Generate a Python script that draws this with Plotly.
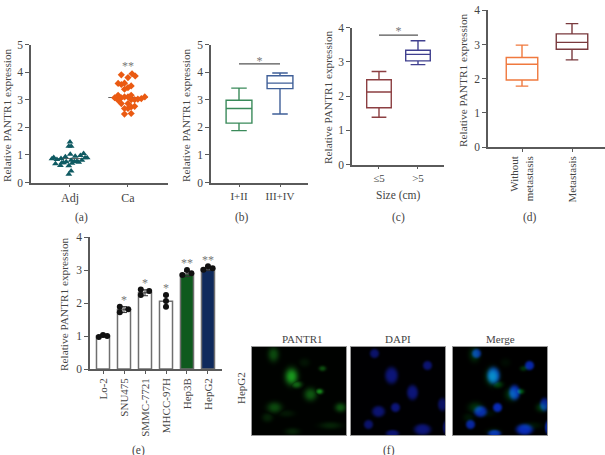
import numpy as np
import plotly.graph_objects as go

W, H = 605, 455
FONT = "Liberation Serif"
TXT = "#444444"
AX = "#5a5a5a"

# (a) scatter
adj_x = [0,-0.02,0.02,-0.28,-0.155,0.005,-0.08,0.09,0.18,0.235,-0.31,-0.225,0.295,
         -0.25,-0.14,-0.065,0.02,0.12,0.205,-0.165,-0.02,0.035,0.075,-0.11,0.02,-0.02,0.15,0.26]
adj_y = [1.47,1.31,1.31,0.91,0.87,1.02,0.93,0.95,0.98,1.05,0.86,0.83,0.90,
         0.68,0.72,0.75,0.81,0.77,0.81,0.62,0.61,0.70,0.76,0.72,0.42,0.30,0.73,0.90]
ca_x = [-0.115,0.07,0.125,0,-0.17,-0.115,-0.06,0.055,0,-0.06,-0.17,-0.23,-0.115,-0.06,0,0.055,
        0.23,0.29,-0.17,-0.115,0,0.055,0.115,0.17,-0.06,0,0.055,0.115,-0.06,0.055]
ca_y = [3.90,3.94,3.86,3.80,3.59,3.55,3.60,3.50,3.44,3.38,3.16,3.07,3.07,3.10,3.10,3.16,
        3.04,3.10,2.98,2.86,2.86,3.00,3.00,3.02,2.68,2.68,2.74,2.76,2.48,2.50]
a_medians = [0.87, 3.08]

# (b) - (d) box summaries: low, q1, median, q3, high
b_labels = ["I+II", "III+IV"]
b_low, b_q1, b_med, b_q3, b_high = [1.88,2.48],[2.15,3.40],[2.68,3.60],[2.98,3.87],[3.42,3.97]
c_labels = ["≤5", ">5"]
c_low, c_q1, c_med, c_q3, c_high = [1.38,2.92],[1.66,3.03],[2.12,3.22],[2.48,3.34],[2.72,3.62]
d_labels = ["Without<br>metastasis", "Metastasis"]
d_low, d_q1, d_med, d_q3, d_high = [1.78,2.55],[1.96,2.86],[2.42,3.06],[2.62,3.31],[2.98,3.61]

# (e) bars
e_labels = ["Lo-2","SNU475","SMMC-7721","MHCC-97H","Hep3B","HepG2"]
e_vals = [1.0,1.80,2.31,2.05,2.88,3.03]
e_err = [0.03,0.09,0.09,0.17,0.08,0.05]
e_colors = ["white","white","white","white","#0f5a1e","#0f2a5c"]
e_pts_x = [-0.2,0,0.2,-0.2,-0.2,0.2,-0.2,-0.2,0.2,0,0,0,-0.22,0,0.21,-0.22,0,0.22]
e_pts_b = [0,0,0,1,1,1,2,2,2,3,3,3,4,4,4,5,5,5]
e_pts_y = [0.97,1.03,1.0,1.89,1.72,1.81,2.41,2.24,2.36,2.24,2.06,1.89,2.85,3.0,2.90,3.01,3.11,3.05]

# (f) micrograph blobs: cx, cy, rx, ry, level (panel pixels)
green_blobs = [(21,7,6,8,.40),(39,29,7,9,.85),(44,37,6,4,.55),(52,15,6,5,.10),(70,21,4,3,.42),(58,47,7,7,.48),
               (67,44,4,3,.75),(22,60,8,6,.40),(34,66,9,4,.12),(88,60,6,5,.45),(78,78,12,4,.18),(40,84,8,4,.18),(15,70,6,5,.18)]
blue_blobs = [(23,6,5,5,.75),(40,28,7,9,.85),(76,18,5,5,.80),(61,45,6,8,.85),(27,64,7,6,.80),(44,60,5,5,.85),
              (17,77,5,5,.75),(91,57,5,7,.70),(41,86,7,4,.80),(71,82,9,6,.85),(94,80,3,7,.70)]
f_titles = ["PANTR1", "DAPI", "Merge"]


def render(blobs, w, h, sharp):
    yy, xx = np.mgrid[0:h, 0:w]
    out = np.zeros((h, w))
    for cx, cy, rx, ry, lev in blobs:
        d = ((xx - cx) / rx) ** 2 + ((yy - cy) / ry) ** 2
        out = np.maximum(out, lev * np.exp(-(d ** sharp) * 1.3))
    return out


def dom(a, b, size):
    return [a / size, b / size]


fig = go.Figure()
layout = {}
cnt = [0]


def add_axes(x0, x1, y0, y1, xr, yr, tickx, ticky, ticktext, xangle=0, xsize=11):
    cnt[0] += 1
    n = "" if cnt[0] == 1 else str(cnt[0])
    layout["xaxis" + n] = dict(domain=dom(x0, x1, W), range=xr, showgrid=False, zeroline=False, showline=True,
                               linecolor=AX, linewidth=1.5, ticks="outside", ticklen=3, tickwidth=1.3, tickcolor=AX,
                               tickvals=tickx, ticktext=ticktext, tickangle=xangle, anchor="y" + n, automargin=False,
                               tickfont=dict(family=FONT, size=xsize, color=TXT))
    layout["yaxis" + n] = dict(domain=[1 - y1 / H, 1 - y0 / H], range=yr, showgrid=False, zeroline=False, showline=True,
                               linecolor=AX, linewidth=1.5, ticks="outside", ticklen=4, tickwidth=1.3, tickcolor=AX,
                               tickvals=ticky, anchor="x" + n, automargin=False, tickfont=dict(family=FONT, size=11.5, color=TXT))
    return "x" + n, "y" + n


def note(x, y, text, angle=0, size=11, color=TXT):
    fig.add_annotation(xref="paper", yref="paper", x=x / W, y=1 - y / H, text=text, showarrow=False, textangle=angle,
                       font=dict(family=FONT, size=size, color=color), xanchor="center", yanchor="middle")


def boxes(xa, ya, low, q1, med, q3, high, colors, width, ww):
    for i in range(2):
        fig.add_trace(go.Box(x=[i], lowerfence=[low[i]], q1=[q1[i]], median=[med[i]], q3=[q3[i]], upperfence=[high[i]],
                             width=width, whiskerwidth=ww, line=dict(color=colors[i], width=1.4),
                             fillcolor="white", xaxis=xa, yaxis=ya, showlegend=False, boxpoints=False))


def sig(xa, ya, y, ys, size=12):
    fig.add_trace(go.Scatter(x=[0, 1], y=[y, y], mode="lines", line=dict(color="#555555", width=1.2), xaxis=xa, yaxis=ya,
                             showlegend=False, cliponaxis=False))
    fig.add_trace(go.Scatter(x=[0.5], y=[ys], mode="text", text=["*"], textfont=dict(family=FONT, size=size, color="#777777"),
                             xaxis=xa, yaxis=ya, showlegend=False, cliponaxis=False))


# (a)
xa, ya = add_axes(31, 168, 44.5, 182.5, [-0.672, 1.69], [0, 5], [0, 1], [0, 1, 2, 3, 4, 5], ["Adj", "Ca"], xsize=12)
for i, v in enumerate(a_medians):
    fig.add_trace(go.Scatter(x=[i - 0.34, i + 0.34], y=[v, v], mode="lines", line=dict(color="#666666", width=1.2),
                             xaxis=xa, yaxis=ya, showlegend=False))
fig.add_trace(go.Scatter(x=adj_x, y=adj_y, mode="markers", marker=dict(symbol="triangle-up", size=6, color="#0f5a62"),
                         xaxis=xa, yaxis=ya, showlegend=False))
fig.add_trace(go.Scatter(x=[1 + v for v in ca_x], y=ca_y, mode="markers", marker=dict(symbol="diamond", size=5.5, color="#ea5a12"),
                         xaxis=xa, yaxis=ya, showlegend=False))
fig.add_trace(go.Scatter(x=[1], y=[4.2], mode="text", text=["**"], textfont=dict(family=FONT, size=12, color="#777777"),
                         xaxis=xa, yaxis=ya, showlegend=False))

# (b)
xa, ya = add_axes(211, 308, 44.5, 182.5, [-0.683, 1.683], [0, 5], [0, 1], [0, 1, 2, 3, 4, 5], b_labels)
boxes(xa, ya, b_low, b_q1, b_med, b_q3, b_high, ["#3a8a5a", "#3f5f98"], 0.63, 0.6)
sig(xa, ya, 4.3, 4.38)

# (c)
xa, ya = add_axes(352, 444, 27.7, 164.5, [-0.692, 1.667], [0, 4], [0, 1], [0, 1, 2, 3, 4], c_labels)
boxes(xa, ya, c_low, c_q1, c_med, c_q3, c_high, ["#8c3f42", "#40408f"], 0.63, 0.6)
sig(xa, ya, 3.78, 3.86)

# (d)
xa, ya = add_axes(488, 605, 10.3, 147, [-0.68, 1.66], [0, 4], [0, 1], [0, 1, 2, 3, 4], d_labels, xangle=-90)
boxes(xa, ya, d_low, d_q1, d_med, d_q3, d_high, ["#f0793e", "#7a3a3e"], 0.63, 0.4)
sig(xa, ya, 4.05, 4.06, size=10)

# (e)
xa, ya = add_axes(90, 222, 237, 369, [-0.619, 5.667], [0, 4], list(range(6)), [0, 1, 2, 3, 4], e_labels, xangle=-90)
fig.add_trace(go.Bar(x=list(range(6)), y=e_vals, width=0.62, marker=dict(color=e_colors, line=dict(color="#6f6f6f", width=1.5)),
                     error_y=dict(type="data", array=e_err, color="#333333", thickness=1, width=3),
                     xaxis=xa, yaxis=ya, showlegend=False))
fig.add_trace(go.Scatter(x=[b + d for b, d in zip(e_pts_b, e_pts_x)], y=e_pts_y, mode="markers",
                         marker=dict(size=6, color="#111111"), xaxis=xa, yaxis=ya, showlegend=False))
fig.add_trace(go.Scatter(x=[1, 2, 3, 4, 5], y=[2.05, 2.57, 2.42, 3.17, 3.28], mode="text", text=["*", "*", "*", "**", "**"],
                         textfont=dict(family=FONT, size=12, color="#777777"), xaxis=xa, yaxis=ya, showlegend=False))

# (f)
pw, ph = 94, 88
g = render(green_blobs, pw, ph, 1.2)
b = render(blue_blobs, pw, ph, 2.0)
r0 = np.zeros_like(g)
panels = [(252, np.dstack([r0 + g * 30, g * 175 + 2, g * 35])),
          (351, np.dstack([r0 + b * 15, b * 25, b * 140 + 2])),
          (453, np.dstack([r0 + b * 10, g * 115 + b * 50, g * 22 + b * 215]))]
for px, img in panels:
    cnt[0] += 1
    n = str(cnt[0])
    fig.add_trace(go.Image(z=np.clip(img, 0, 255).astype(int).tolist(), xaxis="x" + n, yaxis="y" + n, hoverinfo="skip"))
    layout["xaxis" + n] = dict(domain=dom(px, px + pw, W), range=[-0.5, pw - 0.5], visible=True, showticklabels=False, ticks="",
                               showgrid=False, zeroline=False, showline=True, mirror=True, linecolor="#999999", linewidth=1, anchor="y" + n)
    layout["yaxis" + n] = dict(domain=[1 - 435 / H, 1 - 347 / H], range=[ph - 0.5, -0.5], showticklabels=False, ticks="",
                               showgrid=False, zeroline=False, showline=True, mirror=True, linecolor="#999999", linewidth=1, anchor="x" + n)

# text
TITLE = "Relative PANTR1 expression"
for x, y in [(7, 115), (186, 115), (328, 97), (463, 80), (64, 304)]:
    note(x, y, TITLE, angle=-90, size=11.3)
note(398, 195, "Size (cm)", size=11.5)
for x, y, t in [(82, 217, "(a)"), (242, 217, "(b)"), (398, 217, "(c)"), (530, 217, "(d)"), (138, 450, "(e)"), (389, 450, "(f)")]:
    note(x, y, t, size=11.5)
note(241, 388, "HepG2", angle=-90, size=11)
for x, t in zip([302, 398, 500], f_titles):
    note(x, 339, t, size=11)

fig.update_layout(width=W, height=H, margin=dict(l=0, r=0, t=0, b=0, autoexpand=False), paper_bgcolor="white", plot_bgcolor="white",
                  showlegend=False, font=dict(family=FONT), **layout)
fig.write_html("out.html", config={"displayModeBar": False},
               post_script="document.body.style.margin='0';document.body.style.overflow='hidden';")
